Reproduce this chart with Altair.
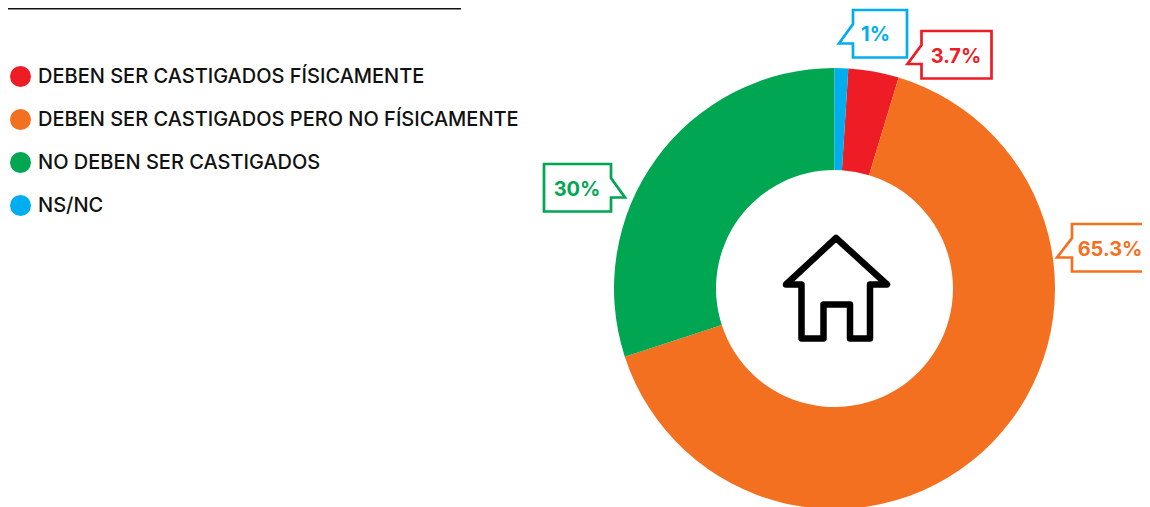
import altair as alt
import pandas as pd

categories = ["DEBEN SER CASTIGADOS FÍSICAMENTE", "DEBEN SER CASTIGADOS PERO NO FÍSICAMENTE",
              "NO DEBEN SER CASTIGADOS", "NS/NC"]
values = [3.7, 65.3, 30, 1]
clock_order = [2, 3, 4, 1]
labels = ["3.7%", "65.3%", "30%", "1%"]
colors = ["#EE1C25", "#F47021", "#00A651", "#00AEEF"]

FONT = "Inter"
OX, OY = 8, 8  # page margin


def px(v):
    return alt.value(v - OX)


def py(v):
    return alt.value(v - OY)


def poly(points):
    return "M" + " L".join(f"{a},{b}" for a, b in points) + " Z"


df = pd.DataFrame({"cat": categories, "value": values, "ord": clock_order})
one = alt.Data(values=[{"a": 1}])

donut = alt.Chart(df).mark_arc(innerRadius=118.5, outerRadius=220.5).encode(
    theta=alt.Theta("value:Q", stack=True),
    order=alt.Order("ord:Q"),
    x=px(834.5),
    y=py(288.5),
    color=alt.Color(
        "cat:N",
        scale=alt.Scale(domain=categories, range=colors),
        legend=alt.Legend(
            title=None, orient="none", legendX=2, legendY=58, symbolType="circle",
            symbolSize=441, symbolStrokeWidth=0, labelFont=FONT, labelFontSize=20,
            labelFontWeight=500, labelColor="#111111", labelOffset=7, rowPadding=22,
            labelLimit=600, symbolOpacity=1,
        ),
    ),
)

# callouts: frame outline relative to its top-left corner, with the pointer tail
callouts = [
    (853, 10, 54, 47.5, (-14, 33.5, 14, 33.5), colors[3]),
    (921.5, 31, 70, 47.5, (-14, 33, 14, 33), colors[0]),
    (1072, 224, 90, 47.5, (-15, 33.5, 14, 33.5), colors[1]),
]
layers = [donut]
for left, top, w, h, (tx, ty, ny, by), col in callouts:
    shape = poly([(0, 0), (w, 0), (w, h), (0, h), (0, by), (tx, ty), (0, ny)])
    layers.append(alt.Chart(one).mark_point(shape=shape, size=4, filled=False, stroke=col,
                                            strokeWidth=2.7, opacity=1, strokeMiterLimit=10).encode(x=px(left), y=py(top)))
# green callout, tail on the right
shape = poly([(0, 0), (67, 0), (67, 14), (81, 33.5), (67, 33.5), (67, 47.5), (0, 47.5)])
layers.append(alt.Chart(one).mark_point(shape=shape, size=4, filled=False, stroke=colors[2],
                                        strokeWidth=2.7, opacity=1).encode(x=px(544), y=py(164)))

# percentage labels
label_pos = [(956, 57), (1110, 250), (577, 190), (875.5, 35)]
for text, col, (lx, ly) in zip(labels, colors, label_pos):
    layers.append(alt.Chart(one).mark_text(text=text, font=FONT, fontSize=20, fontWeight=700, color=col,
                                           align="center", baseline="middle").encode(x=px(lx), y=py(ly)))

# house icon, outline relative to the apex
house = poly([(0, 0), (51, 46.5), (34, 46.5), (34, 100.5), (14, 100.5), (14, 66.5), (-12.5, 66.5),
              (-12.5, 100.5), (-34.5, 100.5), (-34.5, 46.5), (-50, 46.5)])
layers.append(alt.Chart(one).mark_point(shape=house, size=4, filled=False, stroke="#000000", strokeWidth=6.5,
                                        strokeJoin="round", opacity=1).encode(x=px(836), y=py(238)))

# top rule
layers.append(alt.Chart(one).mark_rule(color="#111111", strokeWidth=1.5).encode(
    x=alt.value(0), x2=alt.value(453), y=alt.value(0.7)))

chart = alt.layer(*layers).properties(
    width=1134, height=499, padding=0, autosize=alt.AutoSizeParams(type="none"),
).configure_view(stroke=None)

chart.save("out.html", embed_options={"renderer": "svg", "actions": False})
